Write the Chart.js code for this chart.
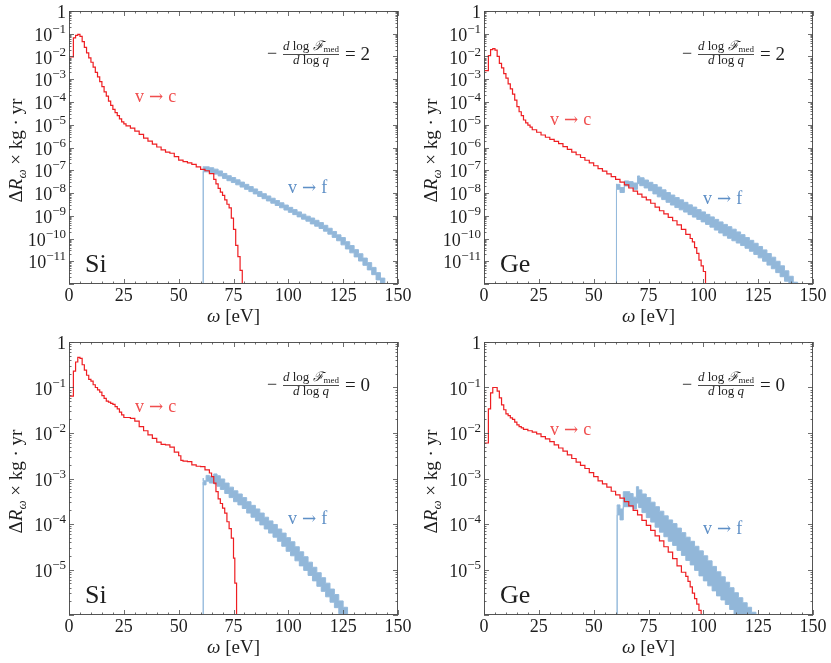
<!DOCTYPE html>
<html><head><meta charset="utf-8">
<script src="https://cdn.jsdelivr.net/npm/chart.js@4.4.1/dist/chart.umd.min.js"></script>
<style>
html,body{margin:0;padding:0;background:#fff;}
#wrap{position:relative;width:831px;height:663px;background:#fff;}
canvas{position:absolute;}
</style></head><body>
<div id="wrap">
<canvas id="c1" width="415" height="330" style="left:0px;top:0px"></canvas>
<canvas id="c2" width="416" height="330" style="left:415px;top:0px"></canvas>
<canvas id="c3" width="415" height="333" style="left:0px;top:330px"></canvas>
<canvas id="c4" width="416" height="333" style="left:415px;top:330px"></canvas>
</div>
<script>
// ---------- axis ticks ----------
const omegaTicks = [0, 25, 50, 75, 100, 125, 150];
const yLabelExpTop = [0, -1, -2, -3, -4, -5, -6, -7, -8, -9, -10, -11];
const yLabelExpBottom = [0, -1, -2, -3, -4, -5];

// ---------- Si, -dlogF/dlogq = 2 ----------
const siN2RedE = [0,2,3,4,5,6,7,8,9,10,11,12,13,14,15,16,17,18,19,20,21,22,23,24,25,26,
  28,30,32,34,36,38,40,42,44,46,48,50,52,54,56,58,60,62,64,66,
  67,68,69,70,71,72,73,74,75,76,77,78,79,80];
const siN2RedR = [2.2e-3,9.5e-3,6.6e-2,8.5e-2,9.3e-2,7.6e-2,4.5e-2,2.5e-2,1.45e-2,8.7e-3,5.6e-3,3.4e-3,2.0e-3,1.26e-3,7.8e-4,4.7e-4,2.8e-4,1.8e-4,1.1e-4,7.1e-5,4.7e-5,3.4e-5,2.5e-5,1.8e-5,1.35e-5,1.1e-5,
  8.9e-6,7.1e-6,5.2e-6,3.8e-6,2.6e-6,1.9e-6,1.4e-6,1.05e-6,7.9e-7,6.3e-7,5.6e-7,4.0e-7,2.8e-7,2.4e-7,2.1e-7,1.8e-7,1.4e-7,1.1e-7,9.5e-8,7.1e-8,
  4.0e-8,2.5e-8,1.6e-8,1.1e-8,7.9e-9,5.0e-9,3.2e-9,2.2e-9,7.9e-10,2.5e-10,5.0e-11,1.6e-11,4.0e-12,1e-14];
const siN2BandE = [61.2,61.2,64,66,68,70,72,74,76,78,80,82,84,86,88,90,92,94,96,98,100,102,104,106,108,110,112,114,116,118,120,122,124,126,128,130,132,134,136,138,140,142,144,146,148];
const siN2BandHi = [1e-14,1.45e-7,1.41e-7,1.29e-7,1.12e-7,9.33e-8,7.24e-8,5.75e-8,4.79e-8,3.8e-8,3.02e-8,2.4e-8,1.91e-8,1.51e-8,1.17e-8,9.33e-9,7.41e-9,5.89e-9,4.68e-9,3.72e-9,2.95e-9,2.34e-9,1.86e-9,1.48e-9,1.17e-9,9.55e-10,7.94e-10,6.31e-10,5.01e-10,3.8e-10,2.82e-10,2.04e-10,1.45e-10,1.1e-10,7.24e-11,4.9e-11,3.24e-11,2.14e-11,1.38e-11,8.71e-12,5.37e-12,3.16e-12,1.82e-12,1.02e-12,1e-14];
const siN2BandLo = [1e-14,8.71e-8,8.51e-8,7.76e-8,6.76e-8,5.62e-8,4.37e-8,3.47e-8,2.88e-8,2.29e-8,1.82e-8,1.45e-8,1.15e-8,9.12e-9,7.08e-9,5.62e-9,4.47e-9,3.55e-9,2.82e-9,2.24e-9,1.78e-9,1.41e-9,1.12e-9,8.91e-10,7.08e-10,5.75e-10,4.37e-10,3.47e-10,2.75e-10,2.09e-10,1.55e-10,1.12e-10,7.94e-11,5.25e-11,3.47e-11,2.34e-11,1.55e-11,1.02e-11,6.61e-12,4.17e-12,2.57e-12,1.51e-12,8.71e-13,4.9e-13,1e-14];

// ---------- Ge, -dlogF/dlogq = 2 ----------
const geN2RedE = [0,2,3,4,5,6,7,8,9,10,11,12,13,14,15,16,17,18,19,20,21,22,
  24,26,28,30,32,34,36,38,40,42,44,46,48,50,52,54,56,58,60,62,64,66,68,70,72,74,76,78,80,82,84,86,88,90,92,94,
  95,96,97,98,99,100,101,102];
const geN2RedR = [1.1e-4,2.4e-3,1.1e-2,2.0e-2,2.24e-2,1.9e-2,1.02e-2,5.0e-3,3.16e-3,1.78e-3,1.12e-3,6.31e-4,3.8e-4,2.24e-4,1.2e-4,6.31e-5,3.72e-5,2.51e-5,1.62e-5,1.2e-5,9.55e-6,7.94e-6,
  6.03e-6,4.68e-6,3.55e-6,2.82e-6,2.29e-6,1.86e-6,1.48e-6,1.1e-6,8.32e-7,6.31e-7,4.79e-7,3.63e-7,2.75e-7,2.09e-7,1.58e-7,1.17e-7,9.12e-8,6.92e-8,5.25e-8,3.98e-8,3.02e-8,2.29e-8,1.66e-8,1.2e-8,8.91e-9,6.61e-9,5.01e-9,3.55e-9,2.4e-9,1.66e-9,1.2e-9,8.51e-10,6.03e-10,3.98e-10,2.51e-10,1.51e-10,
  1.0e-10,7.08e-11,3.98e-11,2.24e-11,1.12e-11,6.31e-12,3.55e-12,1e-14];
const geN2BandE = [60.4,60.4,62,64,66,68,70,71,73,75,77,79,81,83,85,87,89,91,93,95,97,99,101,103,105,107,109,111,113,115,117,119,121,123,125,127,129,131,133,135,137,139,141,143,145];
const geN2BandHi = [1e-14,2.51e-8,2.4e-8,1.74e-8,3.39e-8,3.16e-8,2.75e-8,5.62e-8,4.68e-8,3.72e-8,2.95e-8,2.34e-8,1.82e-8,1.38e-8,1.05e-8,8.13e-9,6.31e-9,5.01e-9,3.89e-9,3.02e-9,2.4e-9,1.86e-9,1.48e-9,1.15e-9,8.91e-10,6.92e-10,5.37e-10,4.17e-10,3.31e-10,2.57e-10,1.95e-10,1.48e-10,1.1e-10,8.32e-11,6.17e-11,4.47e-11,3.16e-11,2.19e-11,1.51e-11,1.0e-11,6.31e-12,3.8e-12,2.19e-12,1.2e-12,1e-14];
const geN2BandLo = [1e-14,1.51e-8,1.45e-8,1.05e-8,2.04e-8,1.82e-8,1.45e-8,2.57e-8,2.09e-8,1.66e-8,1.26e-8,9.12e-9,6.76e-9,5.13e-9,3.89e-9,2.95e-9,2.29e-9,1.82e-9,1.45e-9,1.12e-9,8.71e-10,6.92e-10,5.37e-10,4.17e-10,3.16e-10,2.34e-10,1.74e-10,1.32e-10,1.02e-10,7.94e-11,6.31e-11,4.9e-11,3.72e-11,2.75e-11,2.0e-11,1.41e-11,1.0e-11,6.76e-12,4.68e-12,3.16e-12,2.09e-12,1.32e-12,7.94e-13,4.47e-13,1e-14];

// ---------- Si, -dlogF/dlogq = 0 ----------
const siN0RedE = [0,2,3,4,5,6,7,8,9,10,11,12,13,14,15,16,17,18,19,20,21,22,23,24,25,26,
  28,30,32,34,36,38,40,42,44,46,48,50,
  51,52,54,56,58,60,62,64,65,66,67,68,69,70,71,72,73,74,75,75.6,76.4,77.1];
const siN0RedR = [5.13e-3,6.46e-2,0.229,0.363,0.457,0.437,0.316,0.24,0.186,0.151,0.138,0.115,0.1,8.91e-2,7.94e-2,6.61e-2,5.75e-2,5.01e-2,4.79e-2,4.47e-2,4.27e-2,3.8e-2,3.39e-2,2.88e-2,2.51e-2,2.19e-2,
  2.19e-2,2.09e-2,1.82e-2,1.38e-2,1.12e-2,9.12e-3,7.59e-3,6.31e-3,5.62e-3,5.5e-3,4.9e-3,3.8e-3,
  3.16e-3,2.51e-3,2.4e-3,2.34e-3,2.0e-3,1.86e-3,1.82e-3,1.55e-3,1.32e-3,1.1e-3,7.94e-4,5.13e-4,3.55e-4,2.82e-4,2.24e-4,1.74e-4,1.12e-4,7.94e-5,4.9e-5,1.78e-5,5.01e-6,1e-8];
const siN0BandE = [61.2,61.2,62.5,64,66,67.5,69,71,73,75,77,79,81,83,85,87,89,91,93,95,97,99,101,103,105,107,109,111,113,115,117,119,121,123,125,127,129];
const siN0BandHi = [1e-14,1.02e-3,8.91e-4,1.17e-3,1.12e-3,1.26e-3,1.15e-3,9.77e-4,7.94e-4,6.46e-4,5.37e-4,4.57e-4,3.8e-4,3.09e-4,2.57e-4,2.14e-4,1.74e-4,1.41e-4,1.17e-4,9.77e-5,7.76e-5,6.31e-5,5.01e-5,4.07e-5,3.16e-5,2.45e-5,1.91e-5,1.45e-5,1.12e-5,8.51e-6,6.61e-6,5.01e-6,3.72e-6,2.82e-6,2.04e-6,1.48e-6,1e-9];
const siN0BandLo = [1e-14,8.32e-4,7.24e-4,8.71e-4,7.94e-4,7.59e-4,6.76e-4,5.75e-4,4.68e-4,3.8e-4,3.09e-4,2.63e-4,2.19e-4,1.74e-4,1.41e-4,1.17e-4,9.55e-5,7.76e-5,6.31e-5,5.13e-5,4.17e-5,3.24e-5,2.51e-5,2.0e-5,1.55e-5,1.2e-5,9.55e-6,7.41e-6,5.62e-6,4.27e-6,3.31e-6,2.51e-6,1.91e-6,1.45e-6,1.07e-6,7.94e-7,1e-9];

// ---------- Ge, -dlogF/dlogq = 0 ----------
const geN0RedE = [0,2,3,4,5,6,7,8,9,10,11,12,13,14,15,16,17,18,
  20,22,24,26,28,30,32,34,36,38,40,42,44,46,48,50,52,54,56,58,60,62,64,66,68,70,72,74,76,78,80,82,84,86,88,90,92,
  93,94,95,96,97,98,99,99.3];
const geN0RedR = [3.02e-4,6.03e-3,3.39e-2,7.59e-2,0.1,0.1,8.32e-2,5.89e-2,4.17e-2,3.24e-2,2.63e-2,2.4e-2,2.14e-2,2.0e-2,1.74e-2,1.51e-2,1.38e-2,1.29e-2,
  1.2e-2,1.12e-2,1.05e-2,9.55e-3,8.32e-3,7.41e-3,6.46e-3,5.5e-3,4.68e-3,3.98e-3,3.31e-3,2.75e-3,2.29e-3,1.95e-3,1.66e-3,1.35e-3,1.1e-3,8.91e-4,7.59e-4,6.46e-4,5.25e-4,4.37e-4,3.72e-4,3.09e-4,2.51e-4,2.0e-4,1.58e-4,1.2e-4,9.33e-5,7.24e-5,5.5e-5,4.27e-5,3.16e-5,2.4e-5,1.74e-5,1.2e-5,8.71e-6,
  7.08e-6,5.5e-6,4.17e-6,3.02e-6,2.29e-6,1.74e-6,1.26e-6,1e-9];
const geN0BandE = [60.7,60.7,62,63.5,66.5,68,69.5,70.5,72,74,76,78,80,82,84,86,88,90,92,94,96,98,100,102,104,106,108,110,112,114,116,118,120,122,124,126];
const geN0BandHi = [1e-14,2.34e-4,2.63e-4,2.14e-4,5.13e-4,4.68e-4,3.89e-4,6.61e-4,5.62e-4,4.57e-4,3.8e-4,3.02e-4,2.4e-4,1.91e-4,1.51e-4,1.23e-4,1.02e-4,8.13e-5,6.46e-5,5.13e-5,4.17e-5,3.24e-5,2.57e-5,2.0e-5,1.55e-5,1.17e-5,8.91e-6,6.92e-6,5.25e-6,3.98e-6,3.09e-6,2.4e-6,1.86e-6,1.48e-6,1.15e-6,1e-9];
const geN0BandLo = [1e-14,1.51e-4,1.58e-4,1.23e-4,2.4e-4,2.4e-4,2.14e-4,2.88e-4,2.29e-4,1.78e-4,1.38e-4,1.1e-4,8.51e-5,6.61e-5,5.25e-5,4.17e-5,3.39e-5,2.63e-5,2.04e-5,1.58e-5,1.26e-5,9.55e-6,7.24e-6,5.62e-6,4.37e-6,3.39e-6,2.63e-6,2.14e-6,1.7e-6,1.32e-6,1.02e-6,7.94e-7,6.03e-7,4.68e-7,3.55e-7,1e-9];

// ---------- styles ----------
const SERIF = "'Liberation Serif','DejaVu Serif',serif";
const ARROWF = "'DejaVu Serif','Liberation Serif',serif";
const TXT = '#1e1e1e';
const RED = 'rgb(238,30,34)';
const RED_TXT = 'rgb(240,78,78)';
const BAND_FILL = 'rgb(146,183,217)';
const BAND_EDGE = 'rgb(150,187,221)';
const BLUE_TXT = 'rgb(94,143,198)';
const FRAME = '#555555';

function pts(E, V) { return E.map((x, i) => ({x: x, y: V[i]})); }

function runsWidth(ctx, runs) {
  let w = 0;
  for (const r of runs) { ctx.font = r.f; w += ctx.measureText(r.t).width + (r.sp || 0); }
  return w;
}
function drawRuns(ctx, runs, x, y, align) {
  const w = runsWidth(ctx, runs);
  let cx = align === 'center' ? x - w / 2 : (align === 'right' ? x - w : x);
  for (const r of runs) {
    ctx.font = r.f;
    ctx.fillText(r.t, cx, y + (r.dy || 0));
    cx += ctx.measureText(r.t).width + (r.sp || 0);
  }
  return w;
}

const panels = [
  {id:'c1', mat:'Si', n:'2', W:415, H:330, top:11, bottom:284, yMinExp:-12, labels:yLabelExpTop,
   red:[siN2RedE, siN2RedR], band:[siN2BandE, siN2BandLo, siN2BandHi], vc:[135,97], vf:[288,188]},
  {id:'c2', mat:'Ge', n:'2', W:416, H:330, top:11, bottom:284, yMinExp:-12, labels:yLabelExpTop,
   red:[geN2RedE, geN2RedR], band:[geN2BandE, geN2BandLo, geN2BandHi], vc:[135,120], vf:[288,199]},
  {id:'c3', mat:'Si', n:'0', W:415, H:333, top:12, bottom:285, yMinExp:-6, labels:yLabelExpBottom,
   red:[siN0RedE, siN0RedR], band:[siN0BandE, siN0BandLo, siN0BandHi], vc:[135,77], vf:[288,189]},
  {id:'c4', mat:'Ge', n:'0', W:416, H:333, top:12, bottom:285, yMinExp:-6, labels:yLabelExpBottom,
   red:[geN0RedE, geN0RedR], band:[geN0BandE, geN0BandLo, geN0BandHi], vc:[135,100], vf:[288,199]}
];

function makeDecor(p) {
  return {
    id: 'decor_' + p.id,
    afterDraw(chart) {
      const ctx = chart.ctx, a = chart.chartArea, xs = chart.scales.x, ys = chart.scales.y;
      ctx.save();
      // frame
      ctx.strokeStyle = FRAME; ctx.lineWidth = 1;
      ctx.strokeRect(Math.round(a.left) + 0.5, Math.round(a.top) + 0.5,
                     Math.round(a.right - a.left) - 1, Math.round(a.bottom - a.top) - 1);
      // inward ticks on all sides
      ctx.strokeStyle = '#4a4a4a'; ctx.lineWidth = 0.8;
      ctx.beginPath();
      for (let v = 0; v <= 150; v += 5) {
        const x = Math.round(xs.getPixelForValue(v)) + 0.5;
        const len = (v % 25 === 0) ? 5 : 2.5;
        ctx.moveTo(x, a.bottom); ctx.lineTo(x, a.bottom - len);
        ctx.moveTo(x, a.top); ctx.lineTo(x, a.top + len);
      }
      for (let e = p.yMinExp; e <= 0; e++) {
        for (let m = 1; m < 10; m++) {
          if (e === 0 && m > 1) break;
          const y = Math.round(ys.getPixelForValue(m * Math.pow(10, e))) + 0.5;
          const len = m === 1 ? 5 : 2.5;
          ctx.moveTo(a.left, y); ctx.lineTo(a.left + len, y);
          ctx.moveTo(a.right, y); ctx.lineTo(a.right - len, y);
        }
      }
      ctx.stroke();

      // y tick labels
      ctx.fillStyle = TXT;
      ctx.textBaseline = 'alphabetic';
      ctx.textAlign = 'left';
      const rx = a.left - 3;
      for (const e of p.labels) {
        const y = ys.getPixelForValue(Math.pow(10, e));
        if (e === 0) {
          drawRuns(ctx, [{t:'1', f:'18px ' + SERIF}], rx, y + 7, 'right');
        } else {
          ctx.font = '13px ' + SERIF;
          const ew = ctx.measureText('\u2212' + Math.abs(e)).width;
          ctx.fillText('\u2212' + Math.abs(e), rx - ew, y - 1);
          drawRuns(ctx, [{t:'10', f:'18px ' + SERIF}], rx - ew, y + 7, 'right');
        }
      }

      // x axis title
      const cxm = (a.left + a.right) / 2;
      drawRuns(ctx, [{t:'\u03c9', f:'italic 19px ' + SERIF}, {t:' [eV]', f:'19px ' + SERIF}], cxm, a.bottom + 38, 'center');

      // y axis title (rotated)
      ctx.save();
      ctx.translate(22, (a.top + a.bottom) / 2 + 3);
      ctx.rotate(-Math.PI / 2);
      drawRuns(ctx, [
        {t:'\u0394', f:'19px ' + SERIF},
        {t:'R', f:'italic 19px ' + SERIF},
        {t:'\u03c9', f:'italic 13px ' + SERIF, dy:4},
        {t:' \u00d7 kg \u00b7 yr', f:'19px ' + SERIF}
      ], 0, 0, 'center');
      ctx.restore();

      // formula  -dlogF_med/dlogq = n
      const fy = a.top + 43;
      drawRuns(ctx, [{t:'\u2212', f:'18px ' + SERIF}], 267, fy + 5, 'left');
      const fx = 311;
      drawRuns(ctx, [
        {t:'d', f:'italic 13px ' + SERIF},
        {t:' log ', f:'13px ' + SERIF},
        {t:'\u2131', f:'italic 13px ' + SERIF},
        {t:'med', f:'9px ' + SERIF, dy:2}
      ], fx, fy - 4, 'center');
      drawRuns(ctx, [
        {t:'d', f:'italic 13px ' + SERIF},
        {t:' log ', f:'13px ' + SERIF},
        {t:'q', f:'italic 13px ' + SERIF}
      ], fx, fy + 10, 'center');
      ctx.strokeStyle = TXT; ctx.lineWidth = 0.8;
      ctx.beginPath(); ctx.moveTo(283, fy + 0.5); ctx.lineTo(339, fy + 0.5); ctx.stroke();
      drawRuns(ctx, [{t:'= ' + p.n, f:'19px ' + SERIF}], 345, fy + 6, 'left');

      // material label
      drawRuns(ctx, [{t:p.mat, f:'26px ' + SERIF}], 85, a.bottom - 12, 'left');

      // series labels
      ctx.fillStyle = RED_TXT;
      drawRuns(ctx, [{t:'v', f:'18px ' + SERIF, sp:5}, {t:'\u2192', f:'17px ' + ARROWF, sp:5}, {t:'c', f:'18px ' + SERIF}], p.vc[0], p.vc[1] + 5, 'left');
      ctx.fillStyle = BLUE_TXT;
      drawRuns(ctx, [{t:'v', f:'18px ' + SERIF, sp:5}, {t:'\u2192', f:'17px ' + ARROWF, sp:5}, {t:'f', f:'18px ' + SERIF}], p.vf[0], p.vf[1] + 5, 'left');
      ctx.restore();
    }
  };
}

for (const p of panels) {
  new Chart(document.getElementById(p.id), {
    type: 'line',
    data: {
      datasets: [
        {data: pts(p.band[0], p.band[1]), stepped: 'after', borderColor: BAND_EDGE, borderWidth: 1,
         pointRadius: 0, fill: false, order: 3},
        {data: pts(p.band[0], p.band[2]), stepped: 'after', borderColor: BAND_EDGE, borderWidth: 1,
         pointRadius: 0, fill: '-1', backgroundColor: BAND_FILL, order: 2},
        {data: pts(p.red[0], p.red[1]), stepped: 'after', borderColor: RED, borderWidth: 1.2,
         pointRadius: 0, fill: false, order: 1}
      ]
    },
    options: {
      responsive: false, animation: false, events: [],
      layout: {padding: {left: 0, right: p.W - 398, top: p.top, bottom: 0}},
      plugins: {legend: {display: false}, tooltip: {enabled: false}},
      scales: {
        x: {
          type: 'linear', min: 0, max: 150,
          afterBuildTicks: s => { s.ticks = omegaTicks.map(v => ({value: v})); },
          ticks: {font: {family: SERIF, size: 18}, color: TXT, padding: 1, maxRotation: 0, autoSkip: false},
          grid: {display: false, drawTicks: false}, border: {display: false},
          afterFit: s => { s.height = p.H - p.bottom; }
        },
        y: {
          type: 'logarithmic', min: Math.pow(10, p.yMinExp), max: 1,
          ticks: {display: false},
          grid: {display: false, drawTicks: false}, border: {display: false},
          afterFit: s => { s.width = 69; }
        }
      }
    },
    plugins: [makeDecor(p)]
  });
}
</script>
</body></html>
